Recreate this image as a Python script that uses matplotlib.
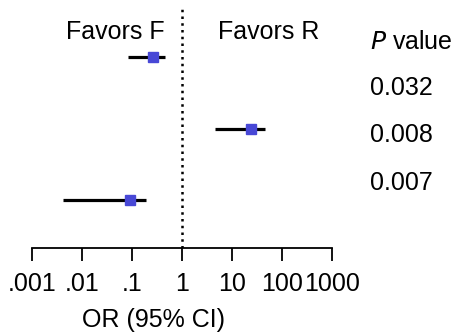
import matplotlib
matplotlib.use('Agg')
import matplotlib.pyplot as plt
import numpy as np

# odds ratios with 95% CI, top row first
odds = np.array([0.26, 24.0, 0.091])
ci_low = np.array([0.083, 4.6, 0.0042])
ci_high = np.array([0.46, 46.0, 0.19])
rows = np.array([3, 2, 1])
p_values = ['0.032', '0.008', '0.007']
tick_vals = [0.001, 0.01, 0.1, 1, 10, 100, 1000]
tick_labels = ['.001', '.01', '.1', '1', '10', '100', '1000']

plt.rcParams['font.family'] = ['Liberation Sans', 'DejaVu Sans']

fig = plt.figure(figsize=(4.57, 3.36), dpi=100)
ax = fig.add_axes([0.070, 0.262, 0.6565, 0.714])

ax.hlines(rows, ci_low, ci_high, color='black', lw=2.3, zorder=2)
ax.plot(odds, rows, 's', color='#4848d6', markersize=7, zorder=3)
ax.axvline(1, color='black', lw=1.8, linestyle=(0, (1, 1.7)), zorder=1)

ax.set_xscale('log')
ax.set_xlim(0.001, 1000)
ax.set_ylim(0.33, 3.685)
ax.set_xticks(tick_vals)
ax.set_xticklabels(tick_labels)
ax.minorticks_off()
ax.tick_params(axis='x', length=9, width=1.3, labelsize=18, pad=8)
ax.set_yticks([])
for s in ['top', 'right', 'left']:
    ax.spines[s].set_visible(False)
ax.spines['bottom'].set_linewidth(1.3)

fig.text(115 / 457, 1 - 32 / 336, 'Favors F', fontsize=18, ha='center', va='center')
fig.text(269 / 457, 1 - 32 / 336, 'Favors R', fontsize=18, ha='center', va='center')
fig.text(370 / 457, 1 - 42 / 336, r'$\it{P}$ value', fontsize=18, ha='left', va='center')
for i, p in enumerate(p_values):
    fig.text(370 / 457, 1 - (88 + 47.5 * i) / 336, p, fontsize=18, ha='left', va='center')
fig.text(154 / 457, 1 - 320 / 336, 'OR (95% CI)', fontsize=18, ha='center', va='center')

fig.savefig('out.png', dpi=100)
